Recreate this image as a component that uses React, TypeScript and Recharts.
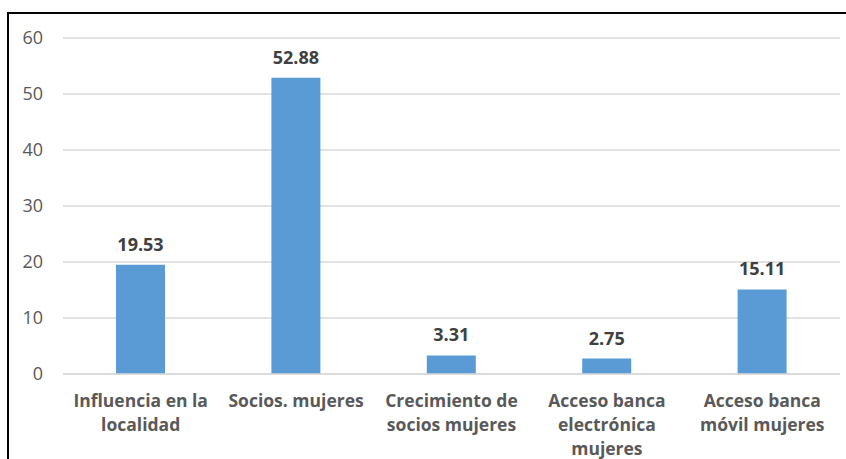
import { BarChart, Bar, XAxis, YAxis, CartesianGrid, LabelList } from 'recharts'

const categories = [
  'Influencia en la localidad',
  'Socios. mujeres',
  'Crecimiento de socios mujeres',
  'Acceso banca electrónica mujeres',
  'Acceso banca móvil mujeres',
]
const lines = [
  ['Influencia en la', 'localidad'],
  ['Socios. mujeres'],
  ['Crecimiento de', 'socios mujeres'],
  ['Acceso banca', 'electrónica', 'mujeres'],
  ['Acceso banca', 'móvil mujeres'],
]
const values = [19.53, 52.88, 3.31, 2.75, 15.11]
const yTicks = [0, 10, 20, 30, 40, 50, 60]

const data = categories.map((c, i) => ({ name: c, value: values[i], idx: i }))

const FONT = '"Open Sans", sans-serif'

function CategoryTick(props: any) {
  const { x, y, index } = props
  const rows = lines[index] ?? []
  return (
    <text x={x} y={y} textAnchor="middle" fill="#595959" fontSize={17.5} fontWeight={700} fontFamily={FONT}>
      {rows.map((r: string, i: number) => (
        <tspan key={i} x={x} dy={i === 0 ? 25 : 24}>{r}</tspan>
      ))}
    </text>
  )
}

export default function App() {
  return (
    <div style={{ position: 'absolute', left: 0, top: 0, width: 846, height: 459, background: '#fff', overflow: 'hidden' }}>
      <div style={{ position: 'absolute', left: 7, top: 12, width: 846, height: 460, borderLeft: '2px solid #000', borderTop: '2px solid #000' }} />
      <BarChart
        width={846}
        height={459}
        data={data}
        margin={{ top: 38, right: 6, left: 0, bottom: 0 }}
        style={{ position: 'absolute', left: 0, top: 0, fontFamily: FONT }}
      >
        <CartesianGrid vertical={false} stroke="#D9D9D9" strokeWidth={1.5} />
        <XAxis
          dataKey="name"
          axisLine={{ stroke: '#D9D9D9', strokeWidth: 1.5 }}
          tickLine={false}
          interval={0}
          tick={<CategoryTick />}
          height={85}
        />
        <YAxis
          domain={[0, 60]}
          ticks={yTicks}
          axisLine={false}
          tickLine={false}
          width={63}
          tickMargin={14}
          tick={{ fill: '#595959', fontSize: 18, fontFamily: FONT }}
        />
        <Bar dataKey="value" fill="#5B9BD5" barSize={49} isAnimationActive={false}>
          <LabelList
            dataKey="value"
            position="top"
            offset={14}
            formatter={(v: any) => Number(v).toFixed(2)}
            style={{ fill: '#404040', fontSize: 18, fontWeight: 700, fontFamily: FONT }}
          />
        </Bar>
      </BarChart>
    </div>
  )
}
